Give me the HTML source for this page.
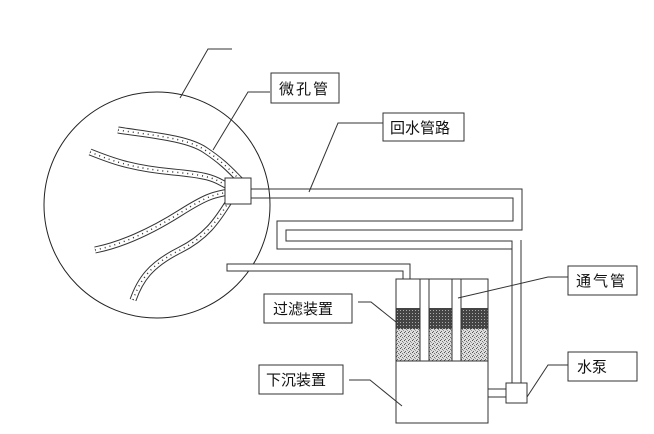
<!DOCTYPE html>
<html><head><meta charset="utf-8"><style>
html,body{margin:0;padding:0;background:#fff;}
svg{display:block;}
text{font-family:"Liberation Sans","Noto Sans CJK SC",sans-serif;font-size:15px;fill:#111;}
</style></head><body>
<svg width="654" height="434" viewBox="0 0 654 434" xmlns="http://www.w3.org/2000/svg">
<defs>
<pattern id="dk" width="3" height="3" patternUnits="userSpaceOnUse"><rect width="3" height="3" fill="#444"/><rect x="1" y="1" width="1" height="1" fill="#aaa"/></pattern>
<pattern id="sp" width="4" height="4" patternUnits="userSpaceOnUse"><rect width="4" height="4" fill="#ddd"/><rect x="0" y="0" width="1" height="1" fill="#555"/><rect x="2" y="1" width="1" height="1" fill="#777"/><rect x="1" y="3" width="1" height="1" fill="#666"/><rect x="3" y="2" width="1" height="1" fill="#999"/></pattern>
</defs>
<g fill="none" stroke="#222" stroke-width="1">
<circle cx="157" cy="205" r="113" fill="#fff"/>
</g>
<g fill="none" stroke-linecap="butt">
<g stroke="#333" stroke-width="7">
<path d="M118 130 C150 135 187 138 205 150 S230 170 240 180"/>
<path d="M90 152 C110 160 130 168 173 172 S215 180 228 186"/>
<path d="M95 250 C120 245 150 232 180 213 S215 195 228 192"/>
<path d="M133 300 C140 280 150 265 180 250 S220 215 230 200"/>
</g>
<g stroke="#fff" stroke-width="5">
<path d="M118 130 C150 135 187 138 205 150 S230 170 240 180"/>
<path d="M90 152 C110 160 130 168 173 172 S215 180 228 186"/>
<path d="M95 250 C120 245 150 232 180 213 S215 195 228 192"/>
<path d="M133 300 C140 280 150 265 180 250 S220 215 230 200"/>
</g>
<g stroke="#333" stroke-width="1.5" stroke-dasharray="1 4">
<path d="M118 130 C150 135 187 138 205 150 S230 170 240 180"/>
<path d="M90 152 C110 160 130 168 173 172 S215 180 228 186"/>
<path d="M95 250 C120 245 150 232 180 213 S215 195 228 192"/>
<path d="M133 300 C140 280 150 265 180 250 S220 215 230 200"/>
</g>
</g>
<g fill="none" stroke="#333" stroke-width="1">
<path d="M251 189 H522 V230 H286 V241 H512 V383"/>
<path d="M251 198 H513 V221 H277 V249 H512"/>
<path d="M521 240 V383"/>
<path d="M512 241 V250"/>
<rect x="225" y="178" width="26" height="26" fill="#fff"/>
<path d="M227 264 H410 V282 H403 V271 H227 Z" fill="#fff"/>
<rect x="396" y="279" width="92" height="144" fill="#fff"/>
<rect x="396" y="308" width="92" height="21" fill="url(#dk)" stroke="none"/>
<rect x="396" y="329" width="92" height="32" fill="url(#sp)" stroke="none"/>
<rect x="396" y="279" width="92" height="144" fill="none"/>
<line x1="396" y1="361" x2="488" y2="361"/>
<rect x="420" y="279" width="9" height="82" fill="#fff"/>
<rect x="452" y="279" width="9" height="82" fill="#fff"/>
<path d="M488 389 H506 M488 397 H506"/>
<rect x="506" y="383" width="21" height="20" fill="#fff"/>
<rect x="271" y="73" width="68" height="30" fill="#fff"/>
<rect x="383" y="113" width="81" height="28" fill="#fff"/>
<rect x="568" y="266" width="69" height="29" fill="#fff"/>
<rect x="568" y="352" width="69" height="29" fill="#fff"/>
<rect x="264" y="294" width="88" height="29" fill="#fff"/>
<rect x="259" y="365" width="84" height="29" fill="#fff"/>
<polyline points="232,49 208,49 180,98"/>
<polyline points="270,92 248,92 213,150"/>
<polyline points="383,123 338,123 309,192"/>
<polyline points="358,302 371,302 396,322"/>
<polyline points="349,380 370,380 402,406"/>
<polyline points="568,277 548,277 458,298"/>
<polyline points="568,365 548,365 527,397"/>
</g>
<text x="279" y="94" letter-spacing="2">微孔管</text>
<text x="390" y="133">回水管路</text>
<text x="576" y="286" letter-spacing="2">通气管</text>
<text x="577" y="372">水泵</text>
<text x="273" y="314">过滤装置</text>
<text x="266" y="385">下沉装置</text>
</svg>
</body></html>
